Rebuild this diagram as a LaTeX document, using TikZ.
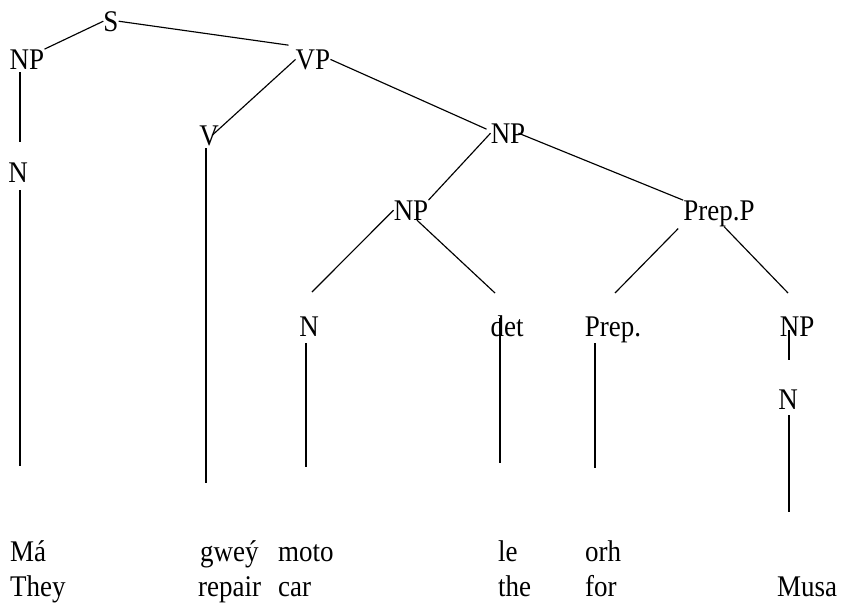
\documentclass[tikz,border=0pt]{standalone}
\usepackage{fontspec}
\setmainfont{Liberation Serif}[FakeStretch=0.9]
\begin{document}
\begin{tikzpicture}[x=1pt,y=-1pt,
  lbl/.style={inner sep=0pt,anchor=base,font=\fontsize{30}{31}\selectfont},
  word/.style={inner sep=0pt,anchor=base west,font=\fontsize{30}{31}\selectfont},
  edge/.style={line width=1.15pt}]
\useasboundingbox (0,0) rectangle (842,606);

% category labels
\node[lbl] (S)   at (111,31)  {S};
\node[lbl] (NPa) at (27,69)   {NP};
\node[lbl] (VP)  at (313,69)  {VP};
\node[lbl] (V)   at (209,145) {V};
\node[lbl] (Na)  at (18,182)  {N};
\node[lbl] (NPb) at (508,143) {NP};
\node[lbl] (NPc) at (411,220) {NP};
\node[lbl] (PP)  at (719,220) {Prep.P};
\node[lbl] (Nb)  at (309,336) {N};
\node[lbl] (det) at (507,336) {det};
\node[lbl] (Pr)  at (613,336) {Prep.};
\node[lbl] (NPd) at (797,336) {NP};
\node[lbl] (Nc)  at (788,409) {N};

% words: source line and gloss line
\node[word] (w1) at (10,561)  {Má};
\node[word] (w2) at (200,561) {gweý};
\node[word] (w3) at (278,561) {moto};
\node[word] (w4) at (498,561) {le};
\node[word] (w5) at (585,561) {orh};
\node[word] (g1) at (10,596)  {They};
\node[word] (g2) at (198,596) {repair};
\node[word] (g3) at (278,596) {car};
\node[word] (g4) at (498,596) {the};
\node[word] (g5) at (585,596) {for};
\node[word] (g6) at (777,596) {Musa};

% free ends of the branches
\coordinate (NaTop)  at (20,72);
\coordinate (NaBot)  at (20,142);
\coordinate (NaS)    at (20,190);
\coordinate (NaE)    at (20,466);
\coordinate (VS)     at (206,148);
\coordinate (VE)     at (206,483);
\coordinate (NbEnd)  at (312,292);
\coordinate (detEnd) at (495,293);
\coordinate (PrEnd)  at (615,293);
\coordinate (NPdEnd) at (788,293);
\coordinate (NbS)    at (306,343);
\coordinate (NbE)    at (306,467);
\coordinate (detS)   at (500,318);
\coordinate (detE)   at (500,463);
\coordinate (PrS)    at (595,343);
\coordinate (PrE)    at (595,468);
\coordinate (NPdS)   at (789,330);
\coordinate (NPdE)   at (789,360);
\coordinate (NcS)    at (789,415);
\coordinate (NcE)    at (789,512);

% branches
\draw[edge] (S.west) -- (NPa.north east);
\draw[edge] (S.east) -- ([xshift=-7pt,yshift=4pt]VP.north west);
\draw[edge] (NaTop) -- (NaBot);
\draw[edge] (VP.west) -- ([xshift=3pt]V.center);
\draw[edge] (VP.east) -- ([xshift=-4pt,yshift=-6pt]NPb.north west);
\draw[edge] (NPb.west) -- (NPc.north east);
\draw[edge] ([xshift=-7pt]NPb.east) -- (PP.north west);
\draw[edge] (NPc.west) -- (NbEnd);
\draw[edge] ([xshift=6pt]NPc.south) -- (detEnd);
\draw[edge] ([xshift=-5pt,yshift=-2pt]PP.south west) -- (PrEnd);
\draw[edge] ([xshift=5pt]PP.south) -- (NPdEnd);
\draw[edge] (NaS) -- (NaE);
\draw[edge] (VS) -- (VE);
\draw[edge] (NbS) -- (NbE);
\draw[edge] (detS) -- (detE);
\draw[edge] (PrS) -- (PrE);
\draw[edge] (NPdS) -- (NPdE);
\draw[edge] (NcS) -- (NcE);
\end{tikzpicture}
\end{document}
